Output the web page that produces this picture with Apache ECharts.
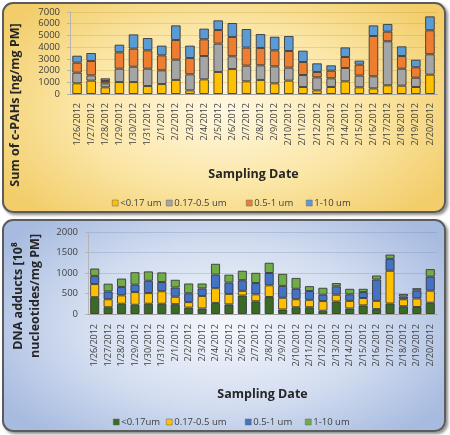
<!DOCTYPE html>
<html><head><meta charset="utf-8">
<script src="https://cdn.jsdelivr.net/npm/echarts@6/dist/echarts.min.js"></script>
<style>
html,body{margin:0;padding:0;width:450px;height:435px;background:#fff;overflow:hidden;}
.panel{position:absolute;box-sizing:border-box;border:2px solid #5c5c5c;border-radius:11px;box-shadow:2px 2px 3px rgba(0,0,0,0.45);}
#p1{left:2px;top:2px;width:444px;height:211px;background:radial-gradient(ellipse 60% 70% at 50% 50%,#fff8e2 0%,#fbe6a6 55%,#f2cd6a 100%);}
#p2{left:2px;top:219px;width:444px;height:213px;background:radial-gradient(ellipse 60% 70% at 50% 50%,#f4f7fc 0%,#d3ddf0 55%,#a7bbe0 100%);}
#c1{position:absolute;left:0;top:0;width:450px;height:216px;}
#c2{position:absolute;left:0;top:216px;width:450px;height:219px;}
</style></head>
<body>
<div class="panel" id="p1"></div>
<div class="panel" id="p2"></div>
<div id="c1"></div>
<div id="c2"></div>
<script>
const dates = ['1/26/2012','1/27/2012','1/28/2012','1/29/2012','1/30/2012','1/31/2012','2/1/2012','2/2/2012','2/3/2012','2/4/2012','2/5/2012','2/6/2012','2/7/2012','2/8/2012','2/9/2012','2/10/2012','2/11/2012','2/12/2012','2/13/2012','2/14/2012','2/15/2012','2/16/2012','2/17/2012','2/18/2012','2/19/2012','2/20/2012'];

// Top panel: Sum of c-PAHs [ng/mg PM]
const pahNames = ['<0.17 um','0.17-0.5 um','0.5-1 um','1-10 um'];
const pahUltra = [910,1140,570,1020,1020,680,850,1200,310,1250,1880,2130,1080,1200,910,1140,600,310,600,1080,570,480,740,710,600,1650];
const pahFine  = [910,450,340,1140,1310,1480,1170,1730,1370,1990,2420,1090,1340,1250,1450,1110,1020,1110,740,1140,1000,1030,3760,1450,790,1740];
const pahMid   = [855,1230,200,1400,1540,1570,1280,1680,1390,1430,1160,1650,1540,1480,1370,1420,1110,460,650,940,930,3440,820,1080,890,2050];
const pahCoarse= [595,680,230,650,1220,1050,830,1250,1060,910,830,1190,1590,1190,1160,1280,970,740,460,820,350,910,660,830,650,1190];
const pahTicks = [0,1000,2000,3000,4000,5000,6000,7000];

// Bottom panel: DNA adducts [10^8 nucleotides/mg PM]
const dnaNames = ['<0.17um','0.17-0.5 um','0.5-1 um','1-10 um'];
const dnaUltra = [410,165,250,225,250,250,240,155,135,270,235,450,310,415,110,165,165,80,305,135,210,120,255,190,170,275];
const dnaFine  = [320,195,205,310,260,305,180,135,305,360,255,115,170,285,285,195,180,235,165,185,180,200,800,170,210,295];
const dnaMid   = [200,190,205,180,300,225,225,215,185,330,275,260,275,300,290,255,215,155,205,160,145,520,290,65,195,340];
const dnaCoarse= [180,190,205,305,230,235,190,240,120,265,195,230,250,250,295,265,120,170,80,135,80,100,105,65,55,185];
const dnaTicks = [0,500,1000,1500,2000];

const FONT = "'Open Sans', 'Liberation Sans', sans-serif";
const txt = '#404040';

function buildOption(cfg){
  const legends = cfg.names.map((n,i)=>({
    data:[n], left:cfg.legendX[i], top:cfg.legendTop, icon:'rect', itemWidth:6, itemHeight:6, itemGap:0,
    textStyle:{fontFamily:FONT,fontSize:9.5,color:txt,padding:[0,0,0,-3]},
    itemStyle:{borderColor:'#666',borderWidth:0.5}, selectedMode:false
  }));
  return {
    animation:false,
    textStyle:{fontFamily:FONT},
    grid:{left:cfg.grid[0],right:cfg.grid[1],top:cfg.grid[2],height:cfg.grid[3]},
    legend:legends,
    xAxis:{type:'category',data:dates,
      axisLine:{lineStyle:{color:'#a0a0a0',width:1}},axisTick:{show:false},
      axisLabel:{rotate:90,fontSize:9,color:txt,fontFamily:FONT,margin:cfg.xMargin,interval:0},
      name:'Sampling Date',nameLocation:'middle',nameGap:74,
      nameTextStyle:{fontFamily:FONT,fontSize:12.5,fontWeight:'bold',color:'#262626'}},
    yAxis:{type:'value',min:cfg.ticks[0],max:cfg.ticks[cfg.ticks.length-1],interval:cfg.ticks[1]-cfg.ticks[0],
      axisLine:{show:true,lineStyle:{color:'#b5b5b5'}},axisTick:{show:true,length:3,lineStyle:{color:'#b5b5b5'}},
      axisLabel:{fontSize:9.5,color:txt,fontFamily:FONT,margin:10,formatter:v=>String(v)},
      splitLine:{lineStyle:{color:cfg.gridColor,width:1}}},
    graphic:cfg.graphic,
    series:cfg.names.map((n,i)=>({
      name:n,type:'bar',stack:'s',data:cfg.data[i],barCategoryGap:'32%',
      itemStyle:{color:cfg.colors[i],borderColor:'rgba(50,50,50,0.85)',borderWidth:1}
    }))
  };
}

const c1 = echarts.init(document.getElementById('c1'));
c1.setOption(buildOption({
  names:pahNames, data:[pahUltra,pahFine,pahMid,pahCoarse],
  colors:['#FFC000','#A5A5A5','#ED7D31','#5B9BD5'],
  ticks:pahTicks, grid:[70,13,12,82], xMargin:9,
  gridColor:'rgba(190,150,50,0.28)',
  legendTop:193, legendX:[107,161,241,301],
  graphic:[{type:'text',x:15,y:105,rotation:Math.PI/2,
    style:{text:'Sum of c-PAHs [ng/mg PM]',font:"bold 12.5px "+FONT,fill:'#262626',align:'center',verticalAlign:'middle'}}]
}));

const c2 = echarts.init(document.getElementById('c2'));
c2.setOption(buildOption({
  names:dnaNames, data:[dnaUltra,dnaFine,dnaMid,dnaCoarse],
  colors:['#3B6A26','#FFC000','#4472C4','#70AD47'],
  ticks:dnaTicks, grid:[88,13,16,82], xMargin:10,
  gridColor:'rgba(110,130,175,0.28)',
  legendTop:196, legendX:[108,161,240,300],
  graphic:[{type:'text',x:27,y:80,rotation:Math.PI/2,
    style:{text:'DNA adducts [10\u2078\nnucleotides/mg PM]',font:"bold 12.5px "+FONT,fill:'#262626',align:'center',verticalAlign:'middle',lineHeight:17}}]
}));
</script>
</body></html>
